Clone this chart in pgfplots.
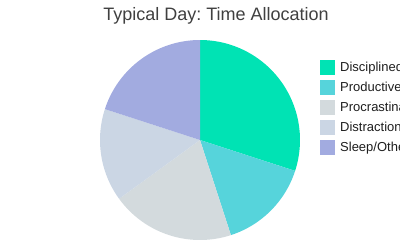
\documentclass[border=0pt]{standalone}
\usepackage{pgfplots}
\pgfplotsset{compat=1.18}
\usepackage{pgfplotstable}
\usepackage{fontspec}
\setmainfont{Liberation Sans}
\frenchspacing
\definecolor{cdisc}{RGB}{0,227,180}
\definecolor{cprod}{RGB}{86,212,219}
\definecolor{cproc}{RGB}{211,218,221}
\definecolor{cdist}{RGB}{203,214,228}
\definecolor{csleep}{RGB}{162,171,224}
\definecolor{ctitle}{RGB}{64,64,64}
\definecolor{ctext}{RGB}{30,30,30}
\pgfplotstableread{
value color
30 cdisc
15 cprod
20 cproc
15 cdist
20 csleep
}\piedata
\begin{document}
\begin{tikzpicture}[x=1pt,y=1pt]
\clip (0,0) rectangle (400,250);
\begin{axis}[x=1pt,y=1pt,xmin=-200,xmax=200,ymin=-110,ymax=140,
  hide axis, at={(200,110)}, anchor=origin, clip=false,
  title={Typical Day: Time Allocation},
  title style={at={(0.54,1)}, anchor=north, yshift=-13pt, inner sep=0pt,
    font=\fontsize{18}{21}\selectfont\frenchspacing, text=ctitle},
  legend entries={Disciplined Work,Productive Tasks,Procrastination,Distractions,Sleep/Other},
  legend cell align=left,
  legend image code/.code={\fill[#1,draw=none] (0pt,-7.5pt) rectangle (15pt,7.5pt);},
  legend style={at={(axis cs:120,80)}, anchor=north west, draw=none, fill=none,
    inner sep=0pt, row sep=5pt, column sep=5pt,
    font=\fontsize{13}{15}\selectfont, text=ctext,
    nodes={inner sep=0pt, text height=9.5pt, text depth=2.7pt}},
]
\def\cum{0}
\pgfplotsforeachungrouped \i in {0,...,4}{%
  \pgfplotstablegetelem{\i}{value}\of\piedata
  \let\val\pgfplotsretval
  \pgfplotstablegetelem{\i}{color}\of\piedata
  \let\col\pgfplotsretval
  \pgfmathsetmacro\angA{90-3.6*\cum}%
  \pgfmathsetmacro\angB{90-3.6*(\cum+\val)}%
  \edef\doslice{\noexpand\addplot[fill=\col, draw=none, domain=\angA:\angB, samples=90] ({100*cos(x)},{100*sin(x)}) -- (axis cs:0,0) -- cycle;}%
  \doslice
  \pgfmathsetmacro\newcum{\cum+\val}%
  \xdef\cum{\newcum}%
}
\end{axis}
\end{tikzpicture}
\end{document}
